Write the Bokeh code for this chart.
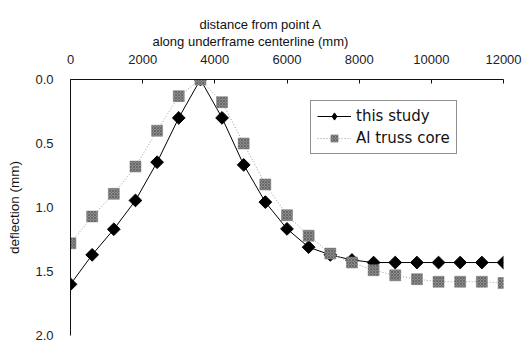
import math
from bokeh.plotting import figure
from bokeh.models import (Range1d, FixedTicker, PrintfTickFormatter, LinearAxis,
                          Legend, LegendItem, Title)
from bokeh.embed import file_html
from bokeh.resources import INLINE

# ---- data ----
distance_mm = [0, 600, 1200, 1800, 2400, 3000, 3600, 4200, 4800, 5400, 6000,
               6600, 7200, 7800, 8400, 9000, 9600, 10200, 10800, 11400, 12000]
this_study = [1.60, 1.37, 1.17, 0.945, 0.646, 0.30, 0.0, 0.30, 0.667, 0.958, 1.167,
              1.31, 1.37, 1.41, 1.43, 1.43, 1.43, 1.43, 1.43, 1.43, 1.43]
al_truss_core = [1.28, 1.07, 0.893, 0.68, 0.40, 0.13, 0.0, 0.177, 0.50, 0.82, 1.06,
                 1.22, 1.36, 1.43, 1.49, 1.53, 1.56, 1.58, 1.58, 1.58, 1.59]
x_ticks = [0, 2000, 4000, 6000, 8000, 10000, 12000]
y_ticks = [0.0, 0.5, 1.0, 1.5, 2.0]
title_line1 = "distance from point A"
title_line2 = "along underframe centerline (mm)"
y_title = "deflection (mm)"

FONT = "Liberation Sans"

p = figure(width=524, height=343, output_backend="svg", toolbar_location=None,
           x_range=Range1d(0, 12000), y_range=Range1d(2.0, 0.0),
           x_axis_location=None, y_axis_location=None,
           min_border_left=70, min_border_top=0, min_border_right=21,
           min_border_bottom=8)
p.grid.visible = False
p.outline_line_color = None
p.background_fill_color = "white"
p.border_fill_color = "white"

xax = LinearAxis(ticker=FixedTicker(ticks=x_ticks))
xax.major_tick_in = 4
xax.major_tick_out = 0
xax.minor_tick_line_color = None
xax.axis_line_color = "#111111"
xax.major_tick_line_color = "#111111"
xax.major_label_text_font = FONT
xax.major_label_text_font_size = "13px"
xax.major_label_text_color = "#222222"
xax.major_label_standoff = 16
p.add_layout(xax, "above")

# two-line axis title above the top axis (first line indented to centre it)
pad = "\u00a0" * 13
t_main = Title(text=pad + title_line1 + "\n" + title_line2, align="left", offset=82,
               standoff=6, vertical_align="bottom", text_line_height=1.1,
               text_font=FONT, text_font_size="13px", text_font_style="normal",
               text_color="#111111")
t_pad = Title(text="\u00a0", align="left", offset=0, standoff=0,
              vertical_align="bottom", text_line_height=1.2,
              text_font=FONT, text_font_size="8px", text_color="white")
p.add_layout(t_main, "above")
p.add_layout(t_pad, "above")

yax = LinearAxis(ticker=FixedTicker(ticks=y_ticks),
                 formatter=PrintfTickFormatter(format="%.1f"))
yax.major_tick_in = 0
yax.major_tick_out = 0
yax.minor_tick_line_color = None
yax.axis_line_color = "#111111"
yax.major_label_text_font = FONT
yax.major_label_text_font_size = "13px"
yax.major_label_text_color = "#222222"
yax.major_label_standoff = 17
yax.axis_label = y_title
yax.axis_label_text_font = FONT
yax.axis_label_text_font_size = "13.5px"
yax.axis_label_text_font_style = "normal"
yax.axis_label_text_color = "#111111"
yax.axis_label_standoff = 10
p.add_layout(yax, "left")

# this study (black diamonds, solid)
l1 = p.line(distance_mm, this_study, line_color="black", line_width=1)
s1 = p.scatter(distance_mm, this_study, marker="square", size=9, angle=math.pi / 4,
               fill_color="black", line_color="black")

# Al truss core (grey squares, dotted)
l2 = p.line(distance_mm, al_truss_core, line_color="#9a9a9a", line_width=1,
            line_dash="1 2")
s2 = p.scatter(distance_mm, al_truss_core, marker="square", size=11,
               fill_color="#8c8c8c", line_color="#7a7a7a", line_width=0.5,
               hatch_pattern="x", hatch_color="#3a3a3a", hatch_scale=3,
               hatch_alpha=0.55, hatch_weight=0.8)

# legend swatches (a single point placed outside the visible range)
k1 = p.scatter(x=[-5000], y=[1.0], marker="diamond", size=12,
               fill_color="black", line_color="black")
k2 = p.scatter(x=[-5000], y=[1.0], marker="square", size=8,
               fill_color="#8c8c8c", line_color="#7a7a7a", line_width=0.5,
               hatch_pattern="x", hatch_color="#3a3a3a", hatch_scale=3,
               hatch_alpha=0.55, hatch_weight=0.8)

legend = Legend(items=[LegendItem(label="this study", renderers=[l1, k1]),
                       LegendItem(label="Al truss core", renderers=[l2, k2])],
                location=(240, 181), padding=6, spacing=4,
                glyph_width=34, glyph_height=18, label_height=18,
                label_standoff=5, label_text_font="DejaVu Sans",
                label_text_font_size="15px", label_text_color="#111111",
                border_line_color="#222222", border_line_width=1,
                background_fill_color="white", background_fill_alpha=1,
                margin=0)
p.add_layout(legend, "center")

open("out.html", "w").write(file_html(p, INLINE))
